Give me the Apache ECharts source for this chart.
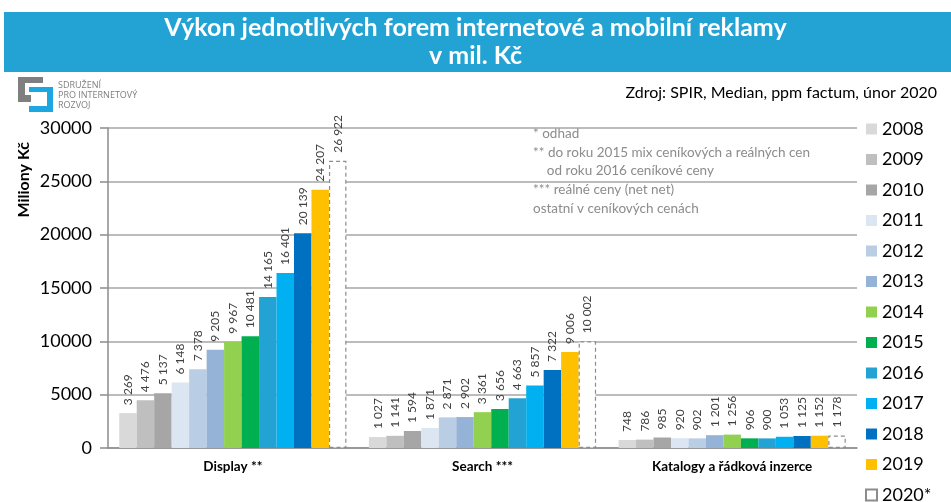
<!DOCTYPE html>
<html>
<head>
    <meta charset="utf-8">
    <title>Výkon reklamy</title>
    <script src="https://cdn.jsdelivr.net/npm/echarts@6/dist/echarts.min.js"></script>
    <style>
        html, body { margin: 0; padding: 0; background: #fff; }
    </style>
</head>
<body>
    <div id="main" style="width: 951px;height:502px;"></div>
    <script type="text/javascript">
        // data
        var categories = ['Display **', 'Search ***', 'Katalogy a řádková inzerce'];
        var years = ['2008', '2009', '2010', '2011', '2012', '2013', '2014', '2015', '2016', '2017', '2018', '2019', '2020*'];
        var display = [3269, 4476, 5137, 6148, 7378, 9205, 9967, 10481, 14165, 16401, 20139, 24207, 26922];
        var search = [1027, 1141, 1594, 1871, 2871, 2902, 3361, 3656, 4663, 5857, 7322, 9006, 10002];
        var katalogy = [748, 786, 985, 920, 902, 1201, 1256, 906, 900, 1053, 1125, 1152, 1178];
        var yTicks = [0, 5000, 10000, 15000, 20000, 25000, 30000];
        var colors = ['#d9d9d9', '#bfbfbf', '#a6a6a6', '#dce6f2', '#b9cde5', '#95b3d7', '#92d050',
            '#00b050', '#23a3d4', '#00b0f0', '#0070c0', '#ffc000', '#ffffff'];

        var notes = [
            '* odhad',
            '** do roku 2015 mix ceníkových a reálných cen',
            '    od roku 2016 ceníkové ceny',
            '*** reálné ceny (net net)',
            'ostatní v ceníkových cenách'
        ];

        function fmt(v) {
            return String(v).replace(/\B(?=(\d{3})+(?!\d))/g, ' ');
        }

        var series = years.map(function (y, i) {
            var last = i === years.length - 1;
            return {
                name: y,
                type: 'bar',
                barGap: '0%',
                barCategoryGap: '9%',
                data: [display[i], search[i], katalogy[i]],
                itemStyle: last ? {
                    color: '#ffffff',
                    borderColor: '#8c8c8c',
                    borderWidth: 1.2,
                    borderType: [4, 3]
                } : { color: colors[i] },
                label: {
                    show: true,
                    position: 'top',
                    rotate: 90,
                    align: 'left',
                    verticalAlign: 'middle',
                    distance: 8,
                    fontSize: 12,
                    fontFamily: 'Lato',
                    color: '#404040',
                    formatter: function (p) { return fmt(p.value); }
                }
            };
        });

        var myChart = echarts.init(document.getElementById('main'));
        var option = {
            animation: false,
            textStyle: { fontFamily: 'Lato' },
            grid: { left: 108, right: 94, top: 128, bottom: 54 },
            legend: {
                orient: 'vertical',
                left: 860,
                top: 115,
                height: 390,
                itemWidth: 11,
                itemHeight: 11,
                itemGap: 12.5,
                icon: 'rect',
                textStyle: { fontSize: 18, color: '#000', fontFamily: 'Lato' },
                data: years
            },
            xAxis: {
                type: 'category',
                data: categories,
                axisLine: { lineStyle: { color: '#8c8c8c', width: 1.5 } },
                axisTick: { length: 8, lineStyle: { color: '#8c8c8c', width: 1.5 } },
                axisLabel: { fontSize: 13.5, fontWeight: 'bold', color: '#000', margin: 12 }
            },
            yAxis: {
                type: 'value',
                min: yTicks[0],
                max: yTicks[yTicks.length - 1],
                interval: yTicks[1] - yTicks[0],
                axisLine: { show: true, lineStyle: { color: '#8c8c8c', width: 1.5 } },
                axisTick: { show: true, length: 8, lineStyle: { color: '#8c8c8c', width: 1.5 } },
                splitLine: { lineStyle: { color: '#a6a6a6', width: 1.5 } },
                axisLabel: { fontSize: 18, color: '#000', margin: 16, formatter: function (v) { return String(v); } }
            },
            graphic: [
                { type: 'rect', left: 4, top: 12, shape: { width: 947, height: 60 }, style: { fill: '#23a3d4' } },
                { type: 'text', left: 'center', top: 15, style: { text: 'Výkon jednotlivých forem internetové a mobilní reklamy', fill: '#fff', font: 'bold 25px Lato' } },
                { type: 'text', left: 'center', top: 43, style: { text: 'v mil. Kč', fill: '#fff', font: 'bold 25px Lato' } },
                // logo
                { type: 'polygon', shape: { points: [[18, 77], [43, 77], [43, 83], [25, 83], [25, 95], [31, 95], [31, 102], [18, 102]] }, style: { fill: '#7f7f7f' } },
                { type: 'polygon', shape: { points: [[29, 87], [53, 87], [53, 112], [29, 112], [29, 106], [47, 106], [47, 92], [29, 92]] }, style: { fill: '#1ca7e0' } },
                { type: 'text', left: 58, top: 80, style: { text: 'SDRUŽENÍ\nPRO INTERNETOVÝ\nROZVOJ', fill: '#7f7f7f', font: '9px "Open Sans"', lineHeight: 10 } },
                { type: 'text', right: 14, top: 85, style: { text: 'Zdroj: SPIR, Median, ppm factum, únor 2020', fill: '#000', font: '16px Lato' } },
                { type: 'text', left: 16, top: 142, rotation: Math.PI / 2, style: { text: 'Miliony Kč', fill: '#000', font: 'bold 16px Lato' } },
                { type: 'text', left: 533, top: 124, style: { text: notes.join('\n'), fill: '#8c8c8c', font: '13.5px Lato', lineHeight: 18.8 } }
            ],
            series: series
        };
        myChart.setOption(option);
    </script>
</body>
</html>
